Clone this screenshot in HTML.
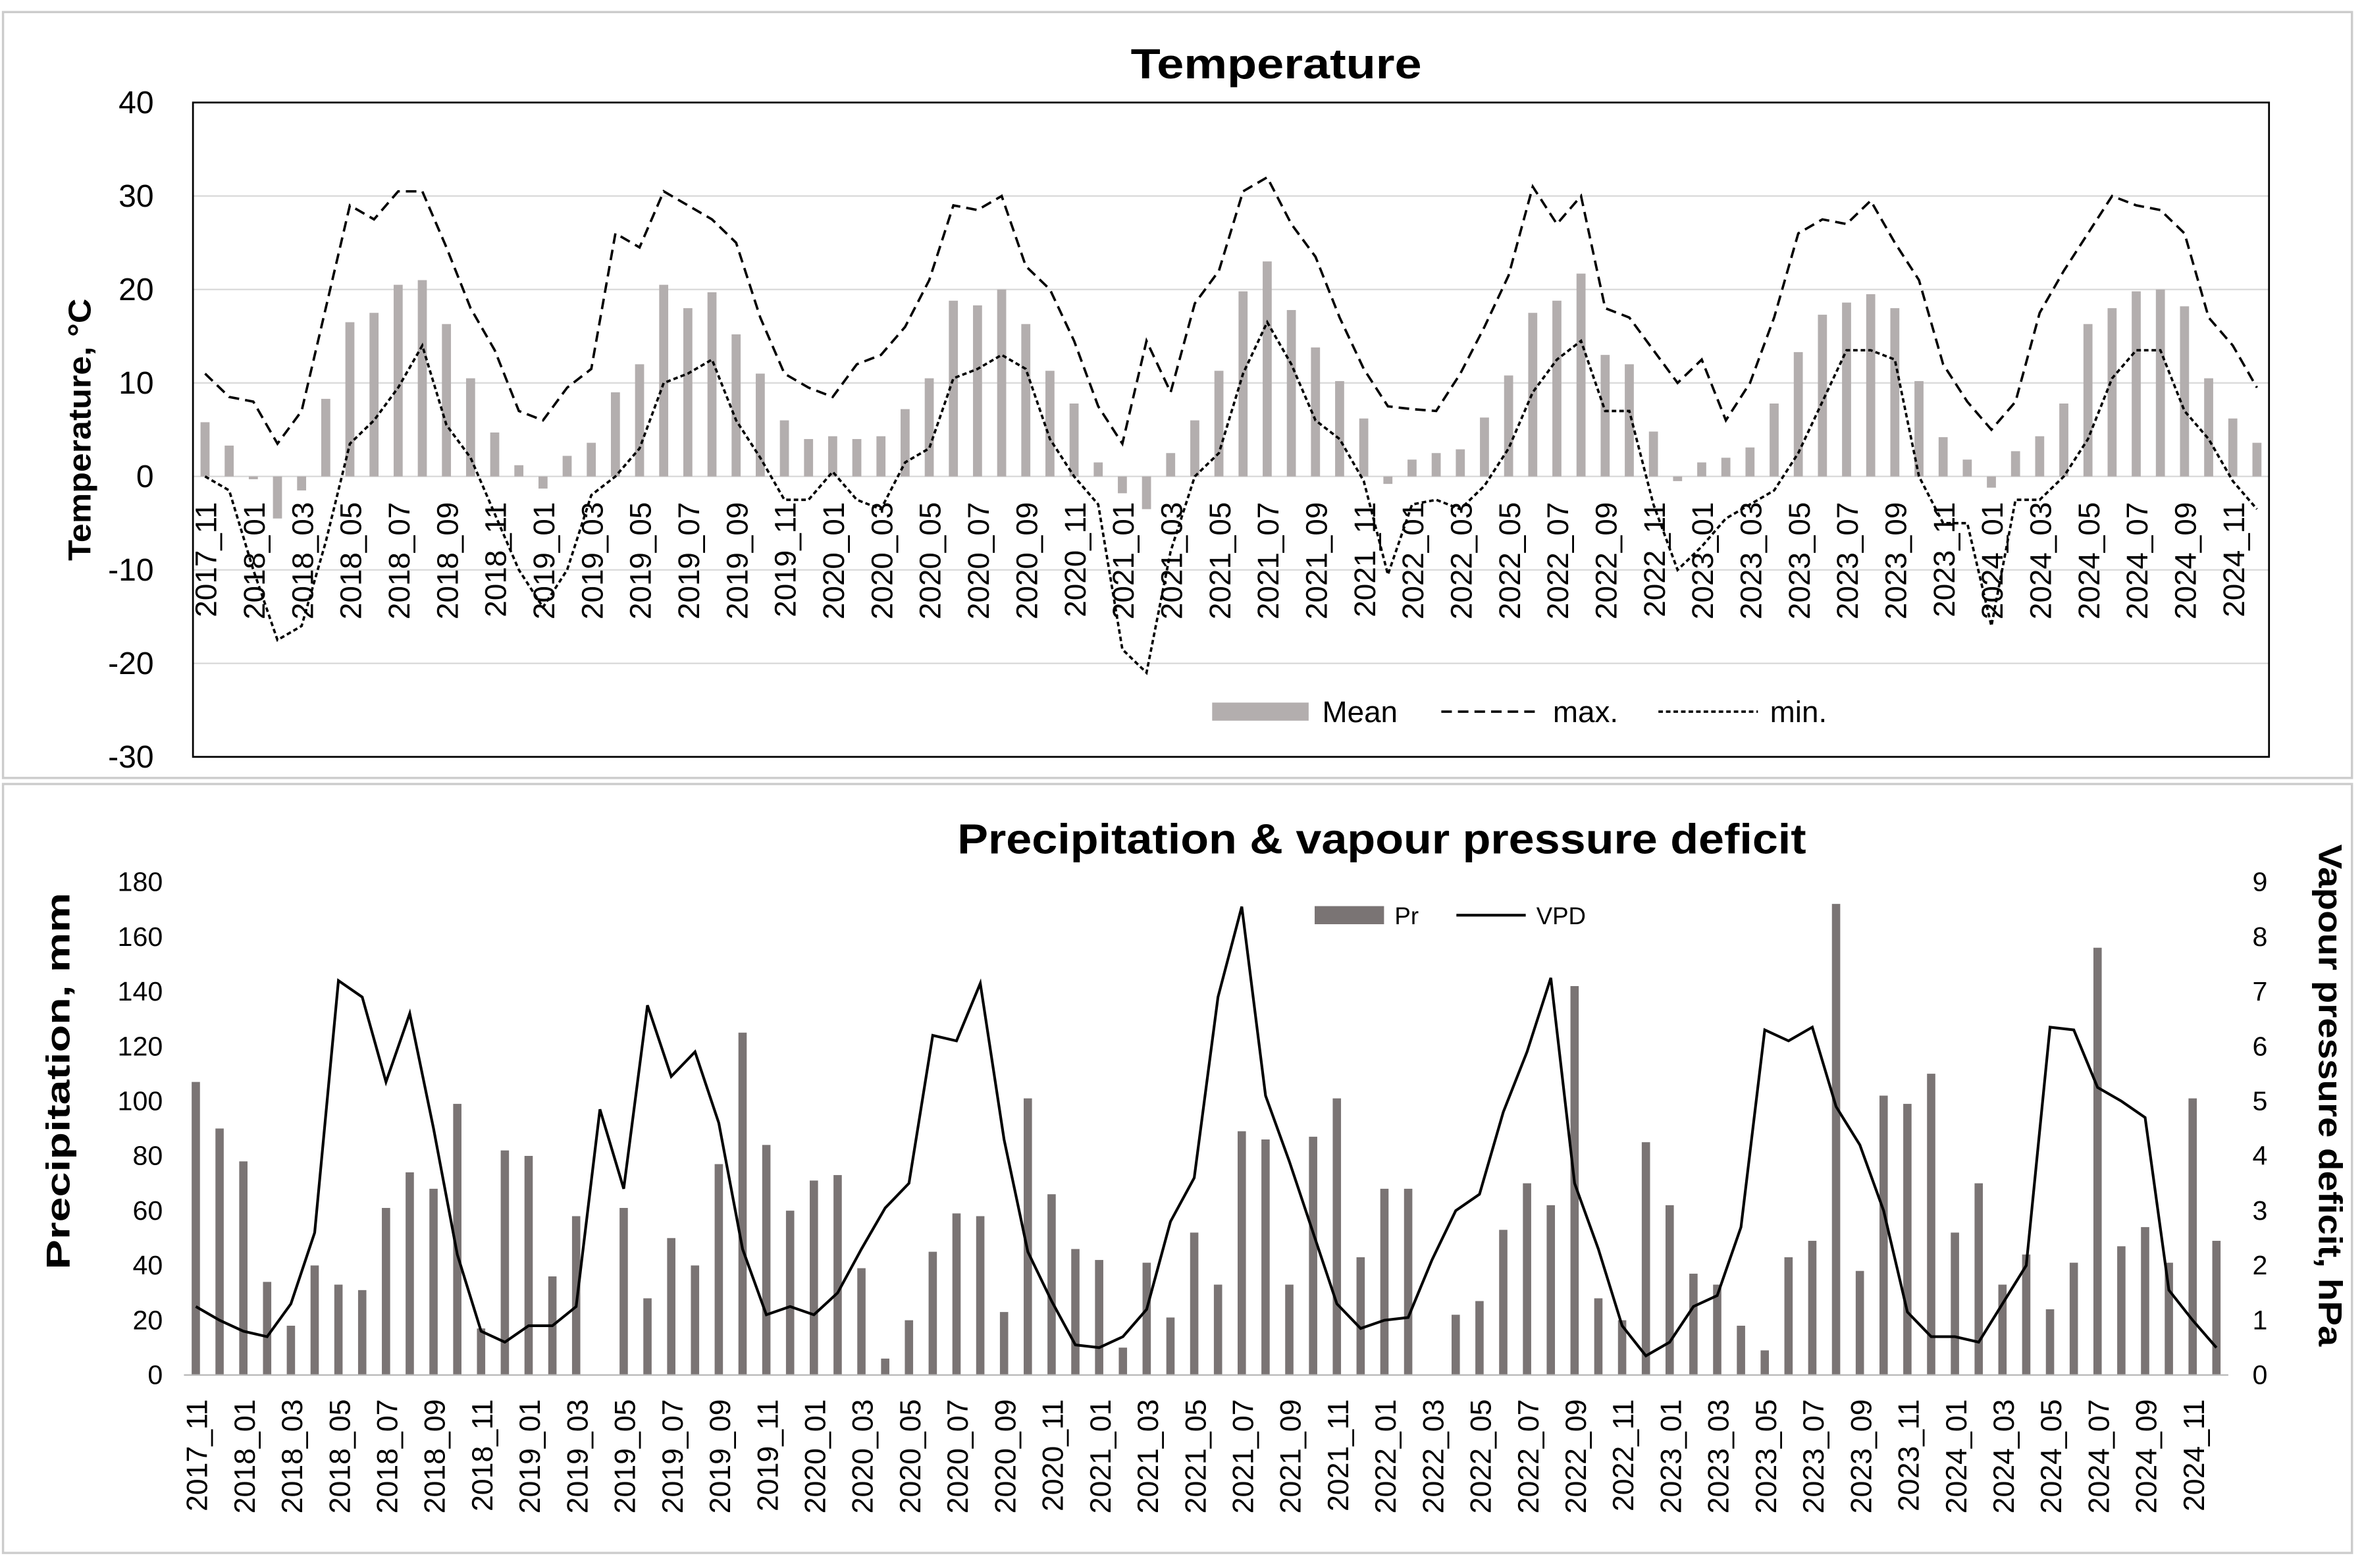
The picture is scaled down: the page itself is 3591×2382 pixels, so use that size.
<!DOCTYPE html>
<html><head><meta charset="utf-8">
<style>
html,body{margin:0;padding:0;background:#fff;}
svg{display:block;font-family:"Liberation Sans",Arial,sans-serif;}
</style></head>
<body>
<svg id="chart" width="3591" height="2382" viewBox="0 0 1568 1040" preserveAspectRatio="none" xmlns="http://www.w3.org/2000/svg">
<rect x="0" y="0" width="1568" height="1040" fill="#fff"/>
<rect x="2" y="8" width="1558" height="508" fill="none" stroke="#ccc" stroke-width="1.5"/>
<rect x="2" y="520" width="1558" height="510" fill="none" stroke="#ccc" stroke-width="1.5"/>
<text x="750" y="52" font-size="28" font-weight="bold" textLength="193" lengthAdjust="spacingAndGlyphs">Temperature</text>
<text x="635" y="566" font-size="28" font-weight="bold" textLength="563" lengthAdjust="spacingAndGlyphs">Precipitation &amp; vapour pressure deficit</text>
<text transform="translate(60,372) rotate(-90)" font-size="21" font-weight="bold" textLength="174" lengthAdjust="spacingAndGlyphs">Temperature, °C</text>
<text transform="translate(46,842) rotate(-90)" font-size="22" font-weight="bold" textLength="250" lengthAdjust="spacingAndGlyphs">Precipitation, mm</text>
<text transform="translate(1538,560) rotate(90)" font-size="22" font-weight="bold" textLength="333" lengthAdjust="spacingAndGlyphs">Vapour pressure deficit, hPa</text>
<g id="topg"></g>
<g id="botg"></g>
</svg>
<script>
const months = [];
(function(){let y=2017,m=11;for(let i=0;i<86;i++){months.push(y+'_'+String(m).padStart(2,'0'));m++;if(m>12){m=1;y++;}}})();
const meanTemp=[5.8,3.3,-0.3,-4.5,-1.5,8.3,16.5,17.5,20.5,21,16.3,10.5,4.7,1.2,-1.3,2.2,3.6,9,12,20.5,18,19.7,15.2,11,6,4,4.3,4,4.3,7.2,10.5,18.8,18.3,20,16.3,11.3,7.8,1.5,-1.8,-3.5,2.5,6,11.3,19.8,23,17.8,13.8,10.2,6.2,-0.8,1.8,2.5,2.9,6.3,10.8,17.5,18.8,21.7,13,12,4.8,-0.5,1.5,2,3.1,7.8,13.3,17.3,18.6,19.5,18,10.2,4.2,1.8,-1.2,2.7,4.3,7.8,16.3,18,19.8,20,18.2,10.5,6.2,3.6];
const maxTemp=[11,8.5,8,3.5,7,18,29,27.5,30.5,30.5,24.5,18,13.5,7,6,9.5,11.5,26,24.5,30.5,29,27.5,25,17,11,9.5,8.5,12,13,16,21,29,28.5,30,22.5,20,14.5,7.5,3.5,14.5,9,18.5,22,30.5,32,27,23.5,17,11.5,7.5,7.2,7,11,16,21.5,31,27,30,18,17,13.5,10,12.5,6,10,17,26,27.5,27,29.5,25,21,12,8,5,8,17.5,22,26,30,29,28.5,26,17,14,9.5];
const minTemp=[0,-1.5,-10,-17.5,-16,-7,3.5,6,9.5,14,5.5,2,-4,-10,-14,-10,-2,0,3,10,11,12.5,6,2,-2.5,-2.5,0.5,-2.5,-3.5,1.5,3,10.5,11.5,13,11.5,4,0,-3,-18.5,-21,-8,0,2.5,11,16.5,12,6,4,-0.5,-10.5,-3,-2.5,-3.5,-1,3,9,12.5,14.5,7,7,-3,-10,-7.5,-4.5,-3,-1.5,2.5,8,13.5,13.5,12.5,0,-5,-5,-16,-2.5,-2.5,0,4,10.5,13.5,13.5,7,4,-0.5,-3.5];
const precip=[107,90,78,34,18,40,33,31,61,74,68,99,17,82,80,36,58,0,61,28,50,40,77,125,84,60,71,73,39,6,20,45,59,58,23,101,66,46,42,10,41,21,52,33,89,86,33,87,101,43,68,68,0,22,27,53,70,62,142,28,20,85,62,37,33,18,9,43,49,172,38,102,99,110,52,70,33,44,24,41,156,47,54,41,101,49];
const vpd=[1.25,1.0,0.8,0.7,1.3,2.6,7.2,6.9,5.35,6.6,4.5,2.2,0.8,0.6,0.9,0.9,1.25,4.85,3.4,6.75,5.45,5.9,4.6,2.3,1.1,1.25,1.1,1.5,2.3,3.05,3.5,6.2,6.1,7.15,4.3,2.25,1.35,0.55,0.5,0.7,1.2,2.8,3.6,6.9,8.55,5.1,3.9,2.6,1.3,0.85,1.0,1.05,2.1,3.0,3.3,4.8,5.9,7.25,3.5,2.3,0.9,0.35,0.6,1.25,1.45,2.7,6.3,6.1,6.35,4.9,4.2,3.0,1.15,0.7,0.7,0.6,1.3,2.0,6.35,6.3,5.25,5.0,4.7,1.55,1.0,0.5];
const tempTicks=[40,30,20,10,0,-10,-20,-30];
const precipTicks=[0,20,40,60,80,100,120,140,160,180];
const vpdTicks=[0,1,2,3,4,5,6,7,8,9];

const NS='http://www.w3.org/2000/svg';
function mk(parent,tag,attrs){const e=document.createElementNS(NS,tag);for(const k in attrs)e.setAttribute(k,attrs[k]);parent.appendChild(e);return e;}
function line(parent,arr,xf,yf,attrs){return mk(parent,'polyline',Object.assign({points:arr.map((v,i)=>xf(i)+','+yf(v)).join(' '),fill:'none'},attrs));}

// ---- Top chart ----
const topG=document.getElementById('topg');
const T={x0:128,x1:1505,y0:68,y1:502,min:-30,max:40};
const tx=i=>T.x0+(i+0.5)*(T.x1-T.x0)/months.length;
const ty=v=>T.y1-(v-T.min)/(T.max-T.min)*(T.y1-T.y0);
tempTicks.forEach(v=>{
  const g=mk(topG,'line',{x1:T.x0,x2:T.x1,y1:ty(v),y2:ty(v),stroke:'#d9d9d9','stroke-width':1});
  
  
  const t=mk(topG,'text',{x:T.x0-26,y:ty(v)+7,'text-anchor':'end','font-size':21});
  t.textContent=v;
  
  
});
const tf=mk(topG,'rect',{x:T.x0,y:T.y0,width:T.x1-T.x0,height:T.y1-T.y0,fill:'none',stroke:'#000','stroke-width':1.2});


const bwT=6;
meanTemp.forEach((v,i)=>{
  const y=Math.min(ty(v),ty(0)),h=Math.abs(ty(v)-ty(0));
  const r=mk(topG,'rect',{x:tx(i)-bwT/2,y:y,width:bwT,height:Math.max(h,0.5),fill:'#b3aeae'});
  
  
});
months.forEach((m,i)=>{
  if(i%2)return;
  const t=mk(topG,'text',{transform:'translate('+(tx(i)+7.5)+','+(ty(0)+17)+') rotate(-90)','text-anchor':'end','font-size':20});
  t.textContent=m;
  
  
});
const lmax=line(topG,maxTemp,tx,ty,{stroke:'#000','stroke-width':1.6,'stroke-dasharray':'7,4'});


const lmin=line(topG,minTemp,tx,ty,{stroke:'#000','stroke-width':1.6,'stroke-dasharray':'3,2'});


const lg=mk(topG,'g',{});


mk(lg,'rect',{x:804,y:466,width:64,height:12,fill:'#b3aeae'});
const l1=mk(lg,'text',{x:877,y:479,'font-size':20});l1.textContent='Mean';
mk(lg,'line',{x1:956,x2:1022,y1:472,y2:472,stroke:'#000','stroke-width':1.6,'stroke-dasharray':'7,4'});
const l2=mk(lg,'text',{x:1030,y:479,'font-size':20});l2.textContent='max.';
mk(lg,'line',{x1:1100,x2:1166,y1:472,y2:472,stroke:'#000','stroke-width':1.6,'stroke-dasharray':'3,2'});
const l3=mk(lg,'text',{x:1174,y:479,'font-size':20});l3.textContent='min.';

// ---- Bottom chart ----
const botG=document.getElementById('botg');
const B={x0:122,x1:1478,y0:585,y1:912};
const bx=i=>B.x0+(i+0.5)*(B.x1-B.x0)/months.length;
const py=v=>B.y1-v/180*(B.y1-B.y0);
const vy=v=>B.y1-v/9*(B.y1-B.y0);
precipTicks.forEach(v=>{
  const t=mk(botG,'text',{x:B.x0-14,y:py(v)+6,'text-anchor':'end','font-size':18});
  t.textContent=v;
  
  
});
vpdTicks.forEach(v=>{
  const t=mk(botG,'text',{x:B.x1+16,y:vy(v)+6,'text-anchor':'start','font-size':18});
  t.textContent=v;
  
  
});
const bw=5.5;
precip.forEach((v,i)=>{
  const r=mk(botG,'rect',{x:bx(i)-bw/2,y:py(v),width:bw,height:B.y1-py(v),fill:'#7a7474'});
  
  
});
const lv=line(botG,vpd,bx,vy,{stroke:'#000','stroke-width':1.8});


mk(botG,'line',{x1:B.x0,x2:B.x1,y1:B.y1,y2:B.y1,stroke:'#bbb','stroke-width':1});
months.forEach((m,i)=>{
  if(i%2)return;
  const t=mk(botG,'text',{transform:'translate('+(bx(i)+7.5)+','+(B.y1+16)+') rotate(-90)','text-anchor':'end','font-size':19.5});
  t.textContent=m;
  
  
});
const lg2=mk(botG,'g',{});


mk(lg2,'rect',{x:872,y:601,width:46,height:12,fill:'#7a7474'});
const m1=mk(lg2,'text',{x:925,y:613,'font-size':16});m1.textContent='Pr';
mk(lg2,'line',{x1:966,x2:1012,y1:607,y2:607,stroke:'#000','stroke-width':1.8});
const m2=mk(lg2,'text',{x:1019,y:613,'font-size':16});m2.textContent='VPD';
</script>
</body></html>
